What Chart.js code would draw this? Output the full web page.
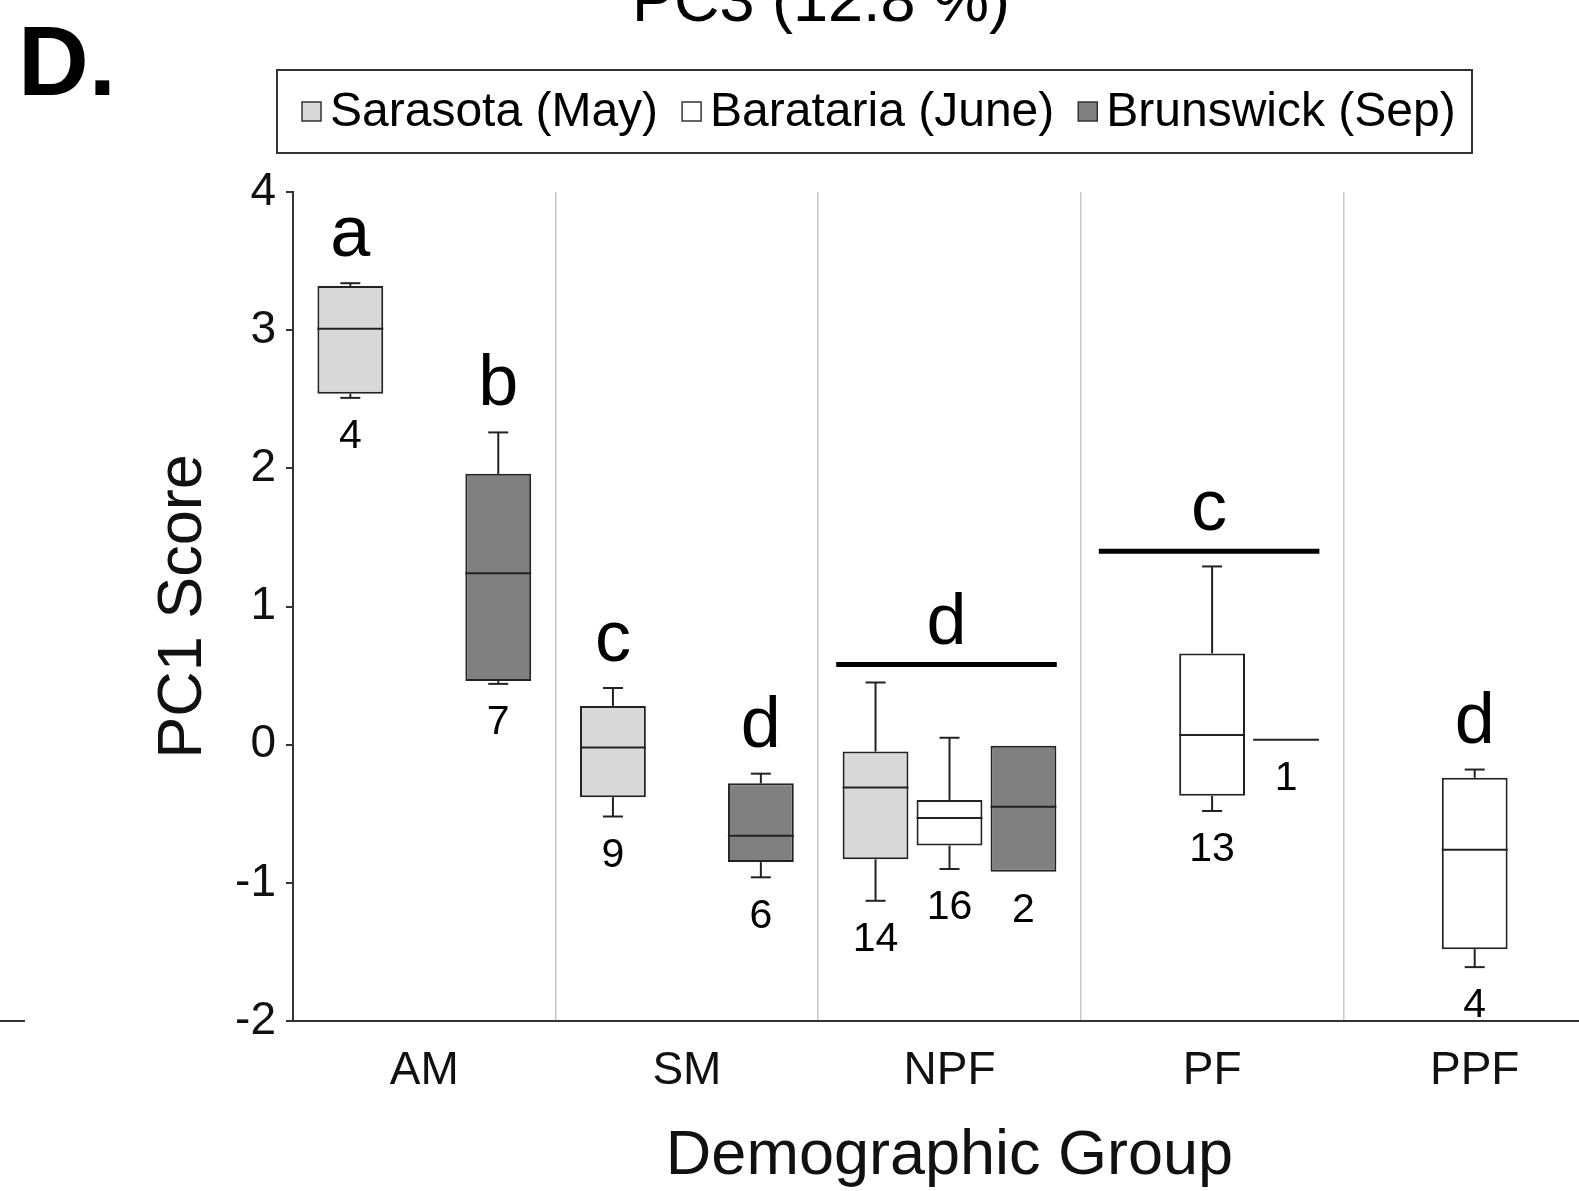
<!DOCTYPE html>
<html>
<head>
<meta charset="utf-8">
<script src="https://cdn.jsdelivr.net/npm/chart.js@4.4.1/dist/chart.umd.min.js"></script>
<style>
  html, body { margin: 0; padding: 0; background: #fff; overflow: hidden; }
  canvas { display: block; }
</style>
</head>
<body>
<canvas id="chart" width="1620" height="1191"></canvas>
<script>
const FONT = '"Liberation Sans", Arial, Helvetica, sans-serif';

// groups on the x axis
const categories = ['AM', 'SM', 'NPF', 'PF', 'PPF'];
const seriesLabels = ['Sarasota (May)', 'Barataria (June)', 'Brunswick (Sep)'];
const seriesColors = ['#d9d9d9', '#ffffff', '#808080'];
const yTicks = [-2, -1, 0, 1, 2, 3, 4];

// [min, q1, median, q3, max] for each group, null when no box
const sarasotaStats = [
  [2.51, 2.54, 3.01, 3.32, 3.34],
  [-0.52, -0.38, -0.02, 0.28, 0.41],
  [-1.13, -0.83, -0.31, -0.05, 0.45],
  null,
  null
];
const baratariaStats = [
  null,
  null,
  [-0.90, -0.73, -0.53, -0.40, 0.05],
  [-0.48, -0.37, 0.07, 0.66, 1.29],
  [-1.61, -1.48, -0.76, -0.24, -0.18]
];
const brunswickStats = [
  [0.44, 0.46, 1.24, 1.96, 2.26],
  [-0.96, -0.85, -0.66, -0.28, -0.21],
  [-0.92, -0.92, -0.45, 0.00, 0.00],
  [0.035, 0.035, 0.035, 0.035, 0.035],
  null
];

// sample sizes under each box
const sarasotaN = [4, 9, 14, null, null];
const baratariaN = [null, null, 16, 13, 4];
const brunswickN = [7, 6, 2, 1, null];

// significance letters over single boxes
const sarasotaLetters = ['a', 'c', null, null, null];
const baratariaLetters = [null, null, null, null, 'd'];
const brunswickLetters = ['b', 'd', null, null, null];

// letters over a bar spanning a whole group
const groupLetters = [null, null, 'd', 'c', null];
const groupLineValues = [null, null, 0.58, 1.40, null];

const allStats = [sarasotaStats, baratariaStats, brunswickStats];
const allN = [sarasotaN, baratariaN, brunswickN];
const allLetters = [sarasotaLetters, baratariaLetters, brunswickLetters];

const datasets = allStats.map((stats, d) => ({
  label: seriesLabels[d],
  data: stats.map(s => (s ? [s[1], s[3]] : null)),
  backgroundColor: seriesColors[d],
  borderColor: '#222',
  borderWidth: 2,
  borderSkipped: false,
  categoryPercentage: 0.845,
  barPercentage: 0.89
}));

function line(ctx, x1, y1, x2, y2) {
  ctx.beginPath();
  ctx.moveTo(x1, y1);
  ctx.lineTo(x2, y2);
  ctx.stroke();
}

// whiskers, medians, counts and letters
const boxExtras = {
  id: 'boxExtras',
  afterDatasetsDraw(chart) {
    const ctx = chart.ctx;
    const y = chart.scales.y;
    const x = chart.scales.x;
    ctx.save();
    ctx.strokeStyle = '#222';
    ctx.lineWidth = 2;
    ctx.fillStyle = '#000';
    ctx.textAlign = 'center';

    allStats.forEach((stats, d) => {
      const meta = chart.getDatasetMeta(d);
      stats.forEach((s, i) => {
        if (!s) return;
        const bar = meta.data[i];
        const cx = bar.x;
        const half = bar.width / 2;
        const [mn, q1, med, q3, mx] = s.map(v => y.getPixelForValue(v));
        if (mx < q3 - 0.5) {
          line(ctx, cx, q3, cx, mx);
          line(ctx, cx - 10, mx, cx + 10, mx);
        }
        if (mn > q1 + 0.5) {
          line(ctx, cx, q1, cx, mn);
          line(ctx, cx - 10, mn, cx + 10, mn);
        }
        line(ctx, cx - half, med, cx + half, med);

        const n = allN[d][i];
        if (n !== null) {
          ctx.font = '41px ' + FONT;
          ctx.textBaseline = 'middle';
          ctx.fillText(String(n), cx, mn + 39);
        }
        const letter = allLetters[d][i];
        if (letter) {
          ctx.font = '72px ' + FONT;
          ctx.textBaseline = 'alphabetic';
          ctx.fillText(letter, cx, mx - 27);
        }
      });
    });

    const step = x.getPixelForValue(1) - x.getPixelForValue(0);
    groupLetters.forEach((letter, i) => {
      if (!letter) return;
      const cx = x.getPixelForValue(i) - 3;
      const ly = y.getPixelForValue(groupLineValues[i]);
      ctx.lineWidth = 5;
      ctx.strokeStyle = '#000';
      line(ctx, cx - 0.42 * step, ly, cx + 0.42 * step, ly);
      ctx.font = '72px ' + FONT;
      ctx.textBaseline = 'alphabetic';
      ctx.fillText(letter, cx, ly - 21);
    });

    // stub of the neighbouring panel's axis
    ctx.lineWidth = 2;
    ctx.strokeStyle = '#333';
    line(ctx, 0, y.getPixelForValue(-2), 25, y.getPixelForValue(-2));
    ctx.restore();
  }
};

// panel tag, cut-off title and boxed legend
const headerPlugin = {
  id: 'header',
  beforeDraw(chart) {
    const ctx = chart.ctx;
    ctx.save();
    ctx.fillStyle = '#fff';
    ctx.fillRect(0, 0, chart.width, chart.height);
    ctx.restore();
  },
  afterDraw(chart) {
    const ctx = chart.ctx;
    ctx.save();
    ctx.fillStyle = '#000';
    ctx.textBaseline = 'alphabetic';

    ctx.font = 'bold 98px ' + FONT;
    ctx.textAlign = 'left';
    ctx.fillText('D.', 18, 95);

    ctx.font = '63px ' + FONT;
    ctx.textAlign = 'center';
    ctx.fillText('PC3 (12.8 %)', 821, 21);

    // legend
    ctx.strokeStyle = '#333';
    ctx.lineWidth = 2;
    ctx.strokeRect(277, 70, 1195, 83);
    ctx.font = '48px ' + FONT;
    ctx.textAlign = 'left';
    ctx.textBaseline = 'middle';
    let lx = 302;
    const ly = 112;
    seriesLabels.forEach((label, d) => {
      ctx.fillStyle = seriesColors[d];
      ctx.fillRect(lx, ly - 10, 19, 19);
      ctx.lineWidth = 1.5;
      ctx.strokeStyle = '#333';
      ctx.strokeRect(lx, ly - 10, 19, 19);
      ctx.fillStyle = '#000';
      ctx.fillText(label, lx + 28, ly + 1);
      lx += 28 + ctx.measureText(label).width + 24;
    });
    ctx.restore();
  }
};

new Chart(document.getElementById('chart'), {
  type: 'bar',
  data: {
    labels: categories,
    datasets: datasets
  },
  options: {
    responsive: false,
    animation: false,
    devicePixelRatio: 1,
    layout: { padding: { top: 192, right: 14, left: 0, bottom: 0 } },
    plugins: {
      legend: { display: false },
      tooltip: { enabled: false }
    },
    scales: {
      x: {
        offset: true,
        ticks: { color: '#111', font: { family: FONT, size: 46 }, padding: 23 },
        grid: { offset: true, drawTicks: false, color: '#c8c8c8', lineWidth: 1.5 },
        border: { display: true, color: '#333', width: 2 },
        title: {
          display: true,
          text: 'Demographic Group',
          color: '#111',
          font: { family: FONT, size: 63, lineHeight: 1.1 },
          padding: { top: 0, bottom: 0 }
        },
        afterFit(scale) { scale.height = 170; }
      },
      y: {
        min: -2,
        max: 4,
        afterBuildTicks(scale) { scale.ticks = yTicks.map(v => ({ value: v })); },
        ticks: { color: '#111', font: { family: FONT, size: 46 }, padding: 10 },
        grid: { drawOnChartArea: false, drawTicks: true, tickLength: 7, color: '#333', lineWidth: 2 },
        border: { display: true, color: '#333', width: 2 },
        title: {
          display: true,
          text: 'PC1 Score',
          color: '#111',
          font: { family: FONT, size: 63, lineHeight: 1.2 },
          padding: { top: 146, bottom: 0 }
        },
        afterFit(scale) { scale.width = 293; }
      }
    }
  },
  plugins: [boxExtras, headerPlugin]
});
</script>
</body>
</html>
